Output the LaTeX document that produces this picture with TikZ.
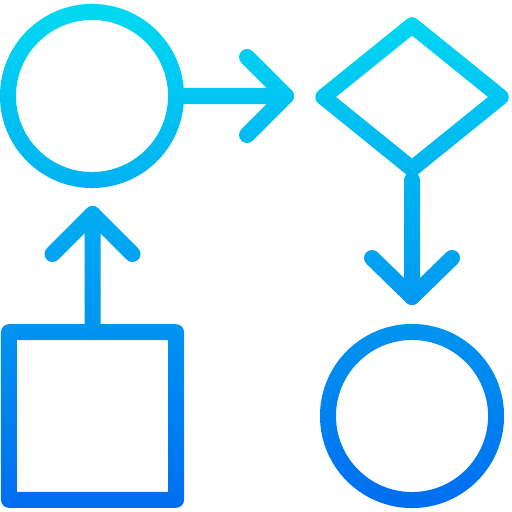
\documentclass[tikz,border=0pt]{standalone}
\usetikzlibrary{shapes.geometric,fadings}
\definecolor{flowTop}{HTML}{00DAF2}
\definecolor{flowBottom}{HTML}{006CF0}
\tikzset{
  icon/.style={line width=0.16cm, line cap=round, line join=round, transparent!0},
  term/.style={circle, draw, inner sep=0pt, minimum size=1.68cm},
  cond/.style={diamond, draw, inner sep=0pt, minimum width=1.84cm, minimum height=1.5cm},
  proc/.style={rectangle, draw, inner sep=0pt, minimum width=1.67cm, minimum height=1.675cm}
}

% the outline, used as a mask for the gradient
\begin{tikzfadingfrompicture}[name=flow, x=0.01cm, y=-0.01cm]
 \begin{scope}[shift={(-256,-256)}, icon]
  \path (0,0) rectangle (512,512);
  \node[term] (start) at (92,96) {};
  \node[cond] (decide) at (412,97) {};
  \node[term] (stop) at (412,416) {};
  \node[proc] (task) at (92.5,416) {};

  \coordinate (tipA) at (286,96);
  \coordinate (tipB) at (412,297);
  \coordinate (tipC) at (92.5,214);

  \draw (start.east) -- (tipA);
  \draw (tipA) ++(-39,-39) -- (tipA) -- ++(-39,39);
  \draw (decide.south) -- (tipB);
  \draw (tipB) ++(-40,-39) -- (tipB) -- ++(40,-39);
  \draw (task.north) -- (tipC);
  \draw (tipC) ++(-40,40) -- (tipC) -- ++(40,40);
 \end{scope}
\end{tikzfadingfrompicture}

\begin{document}
\begin{tikzpicture}[x=0.01cm, y=-0.01cm]
  \fill[white] (-256,-256) rectangle (256,256);
  \shade[top color=flowTop, bottom color=flowBottom, path fading=flow, fit fading=false] (-256,-256) rectangle (256,256);
\end{tikzpicture}
\end{document}
